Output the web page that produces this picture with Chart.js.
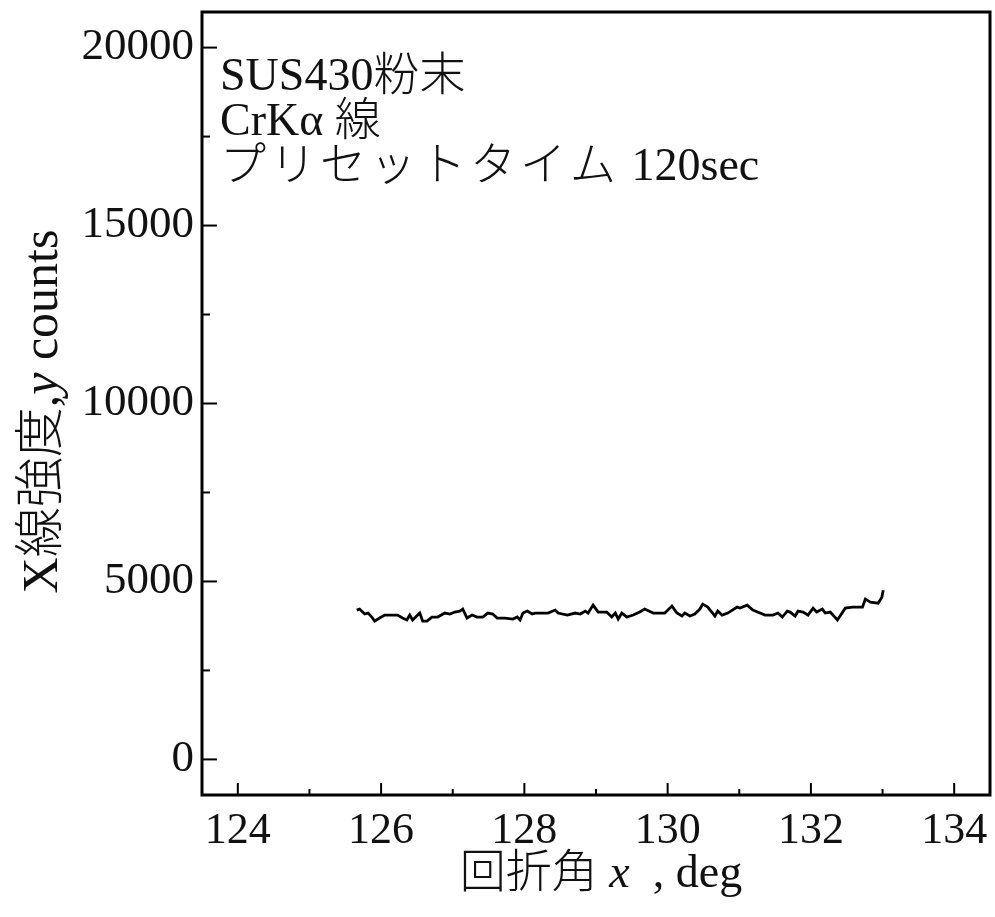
<!DOCTYPE html>
<html>
<head>
<meta charset="utf-8">
<script src="https://cdn.jsdelivr.net/npm/chart.js@4.4.0/dist/chart.umd.min.js"></script>
<style>
html, body { margin: 0; padding: 0; background: #fff; }
</style>
</head>
<body>
<canvas id="xrd_chart" width="995" height="917"></canvas>
<script>
// diffraction angle 2theta (deg) and counts
var angles = [125.66, 125.70, 125.77, 125.82, 125.87, 125.91, 125.98, 126.05, 126.23, 126.30,
  126.36, 126.40, 126.44, 126.54, 126.58, 126.64, 126.71, 126.79, 126.89, 126.96,
  127.03, 127.10, 127.14, 127.20, 127.27, 127.34, 127.42, 127.49, 127.56, 127.62,
  127.73, 127.84, 127.90, 127.94, 127.98, 128.04, 128.11, 128.15, 128.22, 128.33,
  128.43, 128.47, 128.60, 128.71, 128.78, 128.85, 128.89, 128.96, 129.03, 129.15,
  129.22, 129.27, 129.31, 129.36, 129.43, 129.52, 129.61, 129.68, 129.80, 129.96,
  130.06, 130.13, 130.20, 130.24, 130.31, 130.38, 130.45, 130.49, 130.56, 130.66,
  130.70, 130.76, 130.84, 130.97, 131.01, 131.11, 131.19, 131.36, 131.47, 131.54,
  131.60, 131.67, 131.71, 131.78, 131.82, 131.89, 131.96, 132.03, 132.08, 132.16,
  132.20, 132.27, 132.37, 132.48, 132.58, 132.72, 132.76, 132.83, 132.94, 132.99, 133.01];
var counts = [4196, 4224, 4084, 4112, 4000, 3888, 3972, 4056, 4056, 3972,
  3916, 4056, 3916, 4112, 3888, 3888, 4000, 4000, 4112, 4084,
  4140, 4168, 4224, 3972, 4056, 4000, 4000, 4112, 4084, 3972,
  3972, 3944, 4000, 3916, 4112, 4168, 4084, 4112, 4112, 4112,
  4196, 4112, 4056, 4112, 4084, 4168, 4112, 4335, 4140, 4140,
  4000, 4112, 3944, 4112, 4000, 4056, 4140, 4224, 4112, 4112,
  4307, 4112, 4028, 4112, 4028, 4084, 4224, 4363, 4279, 4028,
  4168, 4056, 4112, 4279, 4251, 4335, 4196, 4056, 4056, 4112,
  4000, 4168, 4140, 4028, 4168, 4140, 4056, 4251, 4140, 4224,
  4112, 4140, 3916, 4251, 4279, 4279, 4503, 4419, 4391, 4559, 4755];

var xTickValues = [124, 126, 128, 130, 132, 134];
var yTickValues = [0, 5000, 10000, 15000, 20000];

var serif = "'Liberation Serif', 'Times New Roman', 'Noto Sans CJK JP', serif";

function drawRich(ctx, parts, x, y, align) {
  var total = 0;
  for (var i = 0; i < parts.length; i++) {
    ctx.font = parts[i].font;
    ctx.letterSpacing = parts[i].spacing || '0px';
    total += ctx.measureText(parts[i].text).width;
  }
  var cx = align == 'center' ? x - total / 2 : x;
  for (var i = 0; i < parts.length; i++) {
    ctx.font = parts[i].font;
    ctx.letterSpacing = parts[i].spacing || '0px';
    ctx.fillText(parts[i].text, cx, y);
    cx += ctx.measureText(parts[i].text).width;
  }
  ctx.letterSpacing = '0px';
}

var framePlugin = {
  id: 'frame',
  afterDraw: function(chart) {
    var ctx = chart.ctx, a = chart.chartArea;
    var xs = chart.scales.x, ys = chart.scales.y;
    ctx.save();
    ctx.strokeStyle = '#000';
    ctx.lineWidth = 3;
    ctx.strokeRect(a.left, a.top, a.right - a.left, a.bottom - a.top);

    // inward ticks, major + minor
    ctx.lineWidth = 2;
    for (var v = Math.ceil(xs.min); v <= xs.max; v++) {
      var px = xs.getPixelForValue(v);
      var len = (v % 2 == 0) ? 12 : 6;
      ctx.beginPath(); ctx.moveTo(px, a.bottom); ctx.lineTo(px, a.bottom - len); ctx.stroke();
    }
    for (var v = 0; v <= ys.max; v += 2500) {
      var py = ys.getPixelForValue(v);
      var len = (v % 5000 == 0) ? 15 : 8;
      ctx.beginPath(); ctx.moveTo(a.left, py); ctx.lineTo(a.left + len, py); ctx.stroke();
    }

    ctx.fillStyle = '#111';
    ctx.textBaseline = 'alphabetic';
    ctx.textAlign = 'left';

    // note in the top left corner
    var nf = '300 46px ' + serif;
    drawRich(ctx, [{text: 'SUS430粉末', font: nf}], a.left + 18, a.top + 78);
    drawRich(ctx, [{text: 'CrKα 線', font: nf}], a.left + 18, a.top + 123);
    drawRich(ctx, [{text: 'プリセットタイム', font: nf, spacing: '4px'}, {text: ' 120sec', font: nf}],
      a.left + 18, a.top + 168);

    // x title
    var up = '300 46px ' + serif, it = 'italic 46px ' + serif;
    drawRich(ctx, [{text: '回折角 ', font: up}, {text: 'x', font: it}, {text: '  , deg', font: up}],
      (a.left + a.right) / 2 + 5, 887, 'center');

    // y title
    var up2 = '300 50px ' + serif, it2 = 'italic 50px ' + serif;
    ctx.translate(57, (a.top + a.bottom) / 2 + 8);
    ctx.rotate(-Math.PI / 2);
    drawRich(ctx, [{text: 'X線強度,', font: up2}, {text: 'y', font: it2}, {text: ' counts', font: up2}],
      0, 0, 'center');
    ctx.restore();
  }
};

var points = [];
for (var i = 0; i < angles.length; i++) { points.push({x: angles[i], y: counts[i]}); }

function noPad(scale) {
  scale.paddingTop = 0; scale.paddingBottom = 0;
  scale.paddingLeft = 0; scale.paddingRight = 0;
}

new Chart(document.getElementById('xrd_chart'), {
  type: 'line',
  data: {
    datasets: [{
      data: points,
      borderColor: '#000',
      borderWidth: 2.8,
      pointRadius: 0,
      tension: 0,
      fill: false
    }]
  },
  options: {
    responsive: false,
    animation: false,
    layout: { padding: { top: 12, right: 5, left: 0, bottom: 0 } },
    plugins: { legend: { display: false }, tooltip: { enabled: false } },
    scales: {
      x: {
        type: 'linear',
        min: 123.5,
        max: 134.5,
        grid: { display: false, drawTicks: false },
        border: { display: false },
        afterBuildTicks: function(scale) { scale.ticks = xTickValues.map(function(v) { return {value: v}; }); },
        afterFit: function(scale) { scale.height = 122; noPad(scale); },
        ticks: { color: '#111', padding: 10, maxRotation: 0, font: { family: serif, size: 44 },
          callback: function(v) { return String(v); } }
      },
      y: {
        min: -1000,
        max: 21000,
        grid: { display: false, drawTicks: false },
        border: { display: false },
        afterBuildTicks: function(scale) { scale.ticks = yTickValues.map(function(v) { return {value: v}; }); },
        afterFit: function(scale) { scale.width = 202; noPad(scale); },
        ticks: { color: '#111', padding: 8, font: { family: serif, size: 45 },
          callback: function(v) { return String(v); } }
      }
    }
  },
  plugins: [framePlugin]
});
</script>
</body>
</html>
